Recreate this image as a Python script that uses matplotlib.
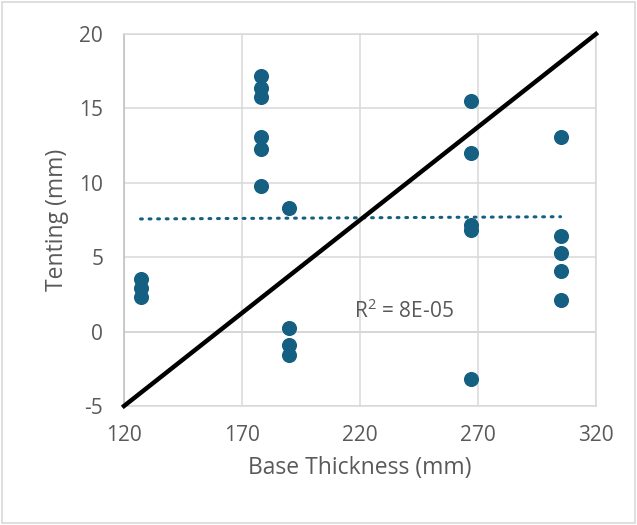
import matplotlib.pyplot as plt
import numpy as np

# data
thickness = [127, 127, 127,
             178, 178, 178, 178, 178, 178,
             190, 190, 190, 190,
             267, 267, 267, 267, 267,
             305, 305, 305, 305, 305]
tenting = [3.55, 2.9, 2.3,
           17.2, 16.4, 15.75, 13.1, 12.3, 9.8,
           8.3, 0.25, -0.9, -1.6,
           15.5, 12.0, 7.15, 6.85, -3.2,
           13.05, 6.45, 5.3, 4.05, 2.15]

# linear trendline as displayed (ends at min / max thickness)
trend_y = [7.57, 7.72]
r2_text = 'R$^2$ = 8E-05'

# reference 1:1-ish line
ref_x = [120, 320]
ref_y = [-5, 20]

xticks = [120, 170, 220, 270, 320]
yticks = [-5, 0, 5, 10, 15, 20]

plt.rcParams['font.family'] = ['Open Sans', 'DejaVu Sans']
plt.rcParams['mathtext.fontset'] = 'custom'
plt.rcParams['mathtext.rm'] = 'Open Sans'
plt.rcParams['axes.unicode_minus'] = False
grey_txt = '#595959'
grid_c = '#d9d9d9'

fig = plt.figure(figsize=(6.37, 5.25), dpi=100)
ax = fig.add_axes([0.1947, 0.2267, 0.7409, 0.7085])

ax.set_xlim(120, 320)
ax.set_ylim(-5, 20)
ax.set_xticks(xticks)
ax.set_yticks(yticks)
ax.grid(True, color=grid_c, linewidth=1.1)
ax.set_axisbelow(True)
for s in ax.spines.values():
    s.set_color(grid_c)
    s.set_linewidth(1.1)
ax.spines['left'].set_color('#bfbfbf')
ax.axhline(0, color='#bfbfbf', linewidth=1.1, zorder=0.5)
ax.tick_params(length=0, labelsize=15, labelcolor=grey_txt)
ax.tick_params(axis='y', pad=15)
ax.tick_params(axis='x', pad=14)

ax.scatter(thickness, tenting, s=118, color='#156082', zorder=3, linewidths=0)

ax.plot([min(thickness), max(thickness)], trend_y, linestyle=(0, (0.6, 2.2)),
        color='#156082', linewidth=2.2, dash_capstyle='round', zorder=2)

ax.plot(ref_x, ref_y, color='black', linewidth=3.2, zorder=4, clip_on=False)

ax.text(217.5, 1.4, r2_text, fontsize=15, color=grey_txt, va='center')

ax.set_xlabel('Base Thickness (mm)', fontsize=16.5, color=grey_txt, labelpad=7)
ax.set_ylabel('Tenting (mm)', fontsize=16.5, color=grey_txt, labelpad=7)

# chart-area border
fig.patches.append(plt.Rectangle((0.003, 0.003), 0.994, 0.994, transform=fig.transFigure,
                                 fill=False, edgecolor='#d9d9d9', linewidth=1.2))

fig.savefig('out.png', dpi=100)
